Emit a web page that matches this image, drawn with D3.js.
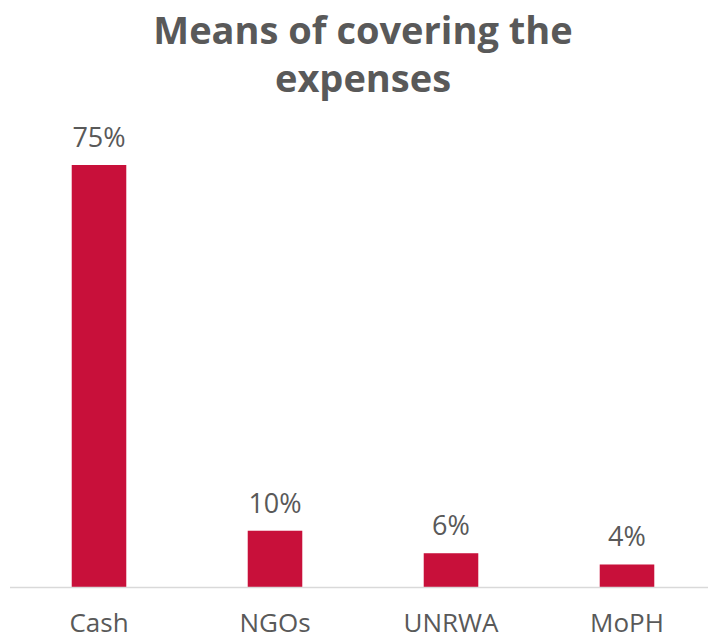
<!DOCTYPE html>
<html>
<head>
<meta charset="utf-8">
<script src="https://cdn.jsdelivr.net/npm/d3@7"></script>
<style>
  html, body { margin: 0; padding: 0; background: #fff; }
  svg { display: block; }
</style>
</head>
<body>
<svg id="chart" width="708" height="640"></svg>
<script>
// Survey answers: how respondents covered the expenses
const categories = ["Cash", "NGOs", "UNRWA", "MoPH"];
const shares = [75, 10, 6, 4];
const titleLines = ["Means of covering the", "expenses"];

const W = 708, H = 640;
const baseY = 587;
const textColor = "#595959";
const barColor = "#c8103a";
const font = "'Open Sans', sans-serif";

const svg = d3.select("#chart");

const x = d3.scaleBand()
  .domain(categories)
  .range([11, 715])
  .paddingInner(0.69)
  .paddingOuter(0.345);

const y = d3.scaleLinear()
  .domain([0, 75])
  .range([baseY, 165]);

// Title
svg.append("g")
  .selectAll("text")
  .data(titleLines)
  .join("text")
  .attr("x", 363)
  .attr("y", (d, i) => 44 + i * 48)
  .attr("text-anchor", "middle")
  .attr("font-family", font)
  .attr("font-weight", "bold")
  .attr("font-size", 38)
  .attr("fill", textColor)
  .text(d => d);

const data = categories.map((c, i) => ({ c, v: shares[i] }));

// Bars
svg.append("g")
  .selectAll("rect")
  .data(data)
  .join("rect")
  .attr("x", d => x(d.c))
  .attr("y", d => y(d.v))
  .attr("width", x.bandwidth())
  .attr("height", d => baseY - y(d.v))
  .attr("fill", barColor);

// Value labels
svg.append("g")
  .selectAll("text")
  .data(data)
  .join("text")
  .attr("x", d => x(d.c) + x.bandwidth() / 2)
  .attr("y", d => y(d.v) - 18)
  .attr("text-anchor", "middle")
  .attr("font-family", font)
  .attr("font-size", 27)
  .attr("fill", textColor)
  .text(d => d.v + "%");

// Category axis
const axis = svg.append("g")
  .attr("transform", `translate(0,${baseY})`)
  .call(d3.axisBottom(x).tickSize(0).tickPadding(27));
axis.select(".domain").remove();
axis.selectAll("text")
  .attr("font-family", font)
  .attr("font-size", 26)
  .attr("fill", textColor);

svg.append("line")
  .attr("x1", 10).attr("x2", W)
  .attr("y1", baseY + 0.5).attr("y2", baseY + 0.5)
  .attr("stroke", "#d9d9d9")
  .attr("stroke-width", 1.5);
</script>
</body>
</html>
